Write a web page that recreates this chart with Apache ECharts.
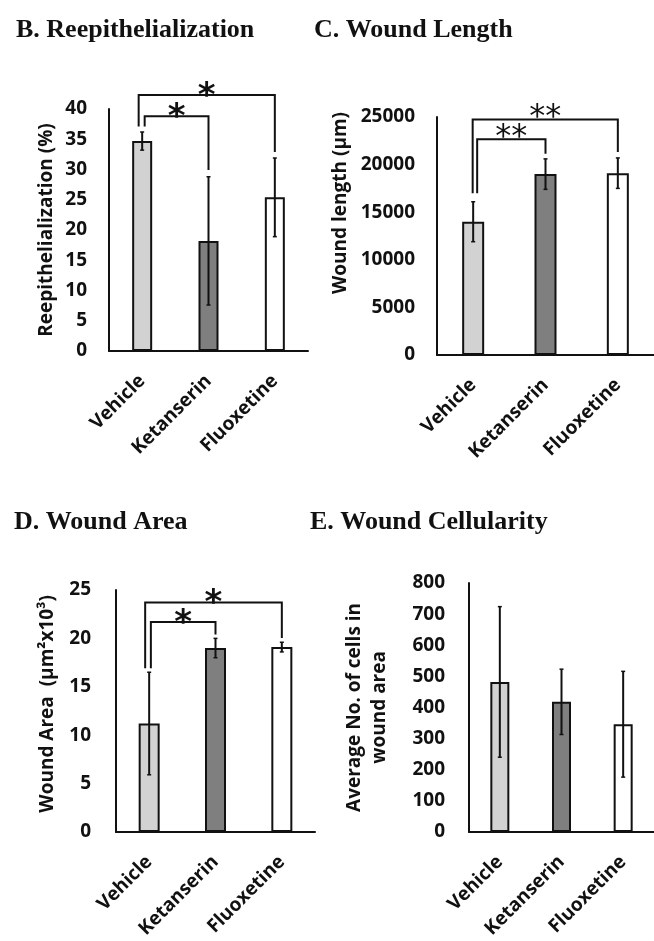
<!DOCTYPE html>
<html>
<head>
<meta charset="utf-8">
<script src="https://cdn.jsdelivr.net/npm/echarts@6/dist/echarts.min.js"></script>
<style>
html,body{margin:0;padding:0;background:#fff;}
#chart{width:654px;height:941px;}
</style>
</head>
<body>
<div id="chart"></div>
<script>
// ---------- data ----------
var categories = ['Vehicle', 'Ketanserin', 'Fluoxetine'];

var reepiMean = [34.7, 18.2, 25.4];
var reepiErr  = [1.5, 10.6, 6.5];

var lengthMean = [14000, 19000, 19100];
var lengthErr  = [2100, 1600, 1600];

var areaMean = [11.2, 19.0, 19.1];
var areaErr  = [5.3, 1.0, 0.5];

var cellMean = [482, 418, 346];
var cellErr  = [242, 105, 170];

// significance brackets: [fromCategory, toCategory, barLevel, leftLegEnd, rightLegEnd]
var reepiBrackets  = [[0, 2, 42.3, 37.1, 32.9], [0, 1, 38.8, 37.1, 29.9]];
var lengthBrackets = [[0, 2, 24750, 17000, 21330], [0, 1, 22660, 17000, 21150]];
var areaBrackets   = [[0, 2, 23.7, 16.9, 20.05], [0, 1, 21.7, 16.9, 20.4]];
var reepiStars  = ['*', '*'];
var lengthStars = ['**', '**'];
var areaStars   = ['*', '*'];

// y axis tick settings
var reepiAxis  = {max: 40, interval: 5};
var lengthAxis = {max: 25000, interval: 5000};
var areaAxis   = {max: 25, interval: 5};
var cellAxis   = {max: 800, interval: 100};

// ---------- styles ----------
var barColors = ['#d2d2d2', '#7f7f7f', '#ffffff'];
var sansFont = 'Open Sans';

var panels = [
  {title: 'B. Reepithelialization', tLeft: 11, tTop: 12,
   grid: {left: 109, top: 109, width: 199, height: 242},
   mean: reepiMean, err: reepiErr, axis: reepiAxis, barWidth: 20,
   yName: 'Reepithelialization (%)', nameGap: 50, namePad: [0, 0, 0, 0], labelMargin: 22,
   brackets: reepiBrackets, stars: reepiStars, legOffsets: [-3.5, 2.5], starSize: 34, starShift: 2, starWeight: 'bold'},
  {title: 'C. Wound Length', tLeft: 309, tTop: 12,
   grid: {left: 437, top: 117, width: 222, height: 238},
   mean: lengthMean, err: lengthErr, axis: lengthAxis, barWidth: 22,
   yName: 'Wound length (μm)', nameGap: 84, namePad: [0, 0, 0, 66], labelMargin: 22,
   brackets: lengthBrackets, stars: lengthStars, legOffsets: [-0.5, 4], starSize: 32, starShift: -2, starWeight: 'normal'},
  {title: 'D. Wound Area', tLeft: 9, tTop: 504,
   grid: {left: 116, top: 590, width: 199, height: 244},
   mean: areaMean, err: areaErr, axis: areaAxis, barWidth: 21,
   yName: 'Wound Area  (μm²x10³)', nameGap: 56, namePad: [0, 0, 0, 14], labelMargin: 25,
   brackets: areaBrackets, stars: areaStars, legOffsets: [-4, 1.7], starSize: 34, starShift: 2, starWeight: 'bold'},
  {title: 'E. Wound Cellularity', tLeft: 305, tTop: 504,
   grid: {left: 469, top: 583, width: 192, height: 252},
   mean: cellMean, err: cellErr, axis: cellAxis, barWidth: 19,
   yName: 'Average No. of cells in\nwound area', nameGap: 77, namePad: [0, 0, 0, 0], labelMargin: 24,
   brackets: [], stars: [], legOffsets: [], starSize: 30, starShift: 0, starWeight: 'bold'}
];

var option = {
  animation: false,
  backgroundColor: '#ffffff',
  title: [], grid: [], xAxis: [], yAxis: [], series: []
};

panels.forEach(function (p, i) {
  option.title.push({
    text: p.title, left: p.tLeft, top: p.tTop,
    textStyle: {fontFamily: 'Liberation Serif', fontWeight: 'bold', fontSize: 26, color: '#111'}
  });
  option.grid.push(p.grid);
  option.xAxis.push({
    type: 'category', gridIndex: i, data: categories,
    axisLine: {lineStyle: {color: '#111', width: 2}},
    axisTick: {show: false},
    axisLabel: {rotate: 45, margin: 27, color: '#111', fontFamily: sansFont, fontWeight: 'bold', fontSize: 19}
  });
  option.yAxis.push({
    type: 'value', gridIndex: i, min: 0, max: p.axis.max, interval: p.axis.interval,
    name: p.yName, nameLocation: 'middle', nameGap: p.nameGap, nameRotate: 90,
    nameTextStyle: {color: '#111', fontFamily: sansFont, fontWeight: 'bold', fontSize: 19, lineHeight: 25, padding: p.namePad},
    axisLine: {show: true, lineStyle: {color: '#111', width: 2}},
    axisTick: {show: false},
    splitLine: {show: false},
    axisLabel: {margin: p.labelMargin, color: '#111', fontFamily: sansFont, fontWeight: 'bold', fontSize: 19,
                formatter: function (v) { return String(v); }}
  });
  option.series.push({
    type: 'bar', xAxisIndex: i, yAxisIndex: i, barWidth: p.barWidth,
    data: p.mean.map(function (v, k) {
      return {value: v, itemStyle: {color: barColors[k], borderColor: '#111', borderWidth: 2}};
    })
  });
  option.series.push({
    type: 'custom', xAxisIndex: i, yAxisIndex: i, silent: true,
    data: p.mean.map(function (v, k) { return [k, v - p.err[k], v + p.err[k]]; }),
    renderItem: function (params, api) {
      var a = api.coord([api.value(0), api.value(1)]);
      var b = api.coord([api.value(0), api.value(2)]);
      return {type: 'group', children: [
        {type: 'line', shape: {x1: a[0], y1: a[1], x2: b[0], y2: b[1]}, style: {stroke: '#111', lineWidth: 2}},
        {type: 'line', shape: {x1: a[0] - 2, y1: a[1], x2: a[0] + 2, y2: a[1]}, style: {stroke: '#111', lineWidth: 1.5}},
        {type: 'line', shape: {x1: b[0] - 2, y1: b[1], x2: b[0] + 2, y2: b[1]}, style: {stroke: '#111', lineWidth: 1.5}}
      ]};
    },
    z: 5
  });
  if (p.brackets.length) {
    option.series.push({
      type: 'custom', xAxisIndex: i, yAxisIndex: i, silent: true, clip: false,
      data: p.brackets,
      renderItem: function (params, api) {
        var k = params.dataIndex;
        var off = p.legOffsets[k] || 0;
        var lTop = api.coord([api.value(0), api.value(2)]);
        var lBot = api.coord([api.value(0), api.value(3)]);
        var rTop = api.coord([api.value(1), api.value(2)]);
        var rBot = api.coord([api.value(1), api.value(4)]);
        var xl = lTop[0] + off, xr = rTop[0];
        return {type: 'group', children: [
          {type: 'polyline', shape: {points: [[xl, lBot[1]], [xl, lTop[1]], [xr, rTop[1]], [xr, rBot[1]]]},
           style: {stroke: '#111', lineWidth: 2, fill: null}},
          {type: 'text', x: (xl + xr) / 2, y: lTop[1] + p.starShift,
           style: {text: p.stars[k], fill: '#111', fontSize: p.starSize, fontWeight: p.starWeight,
                   fontFamily: 'DejaVu Sans', textAlign: 'center', textVerticalAlign: 'middle'}}
        ]};
      },
      z: 6
    });
  }
});

var chart = echarts.init(document.getElementById('chart'), null, {renderer: 'canvas'});
chart.setOption(option);
</script>
</body>
</html>
